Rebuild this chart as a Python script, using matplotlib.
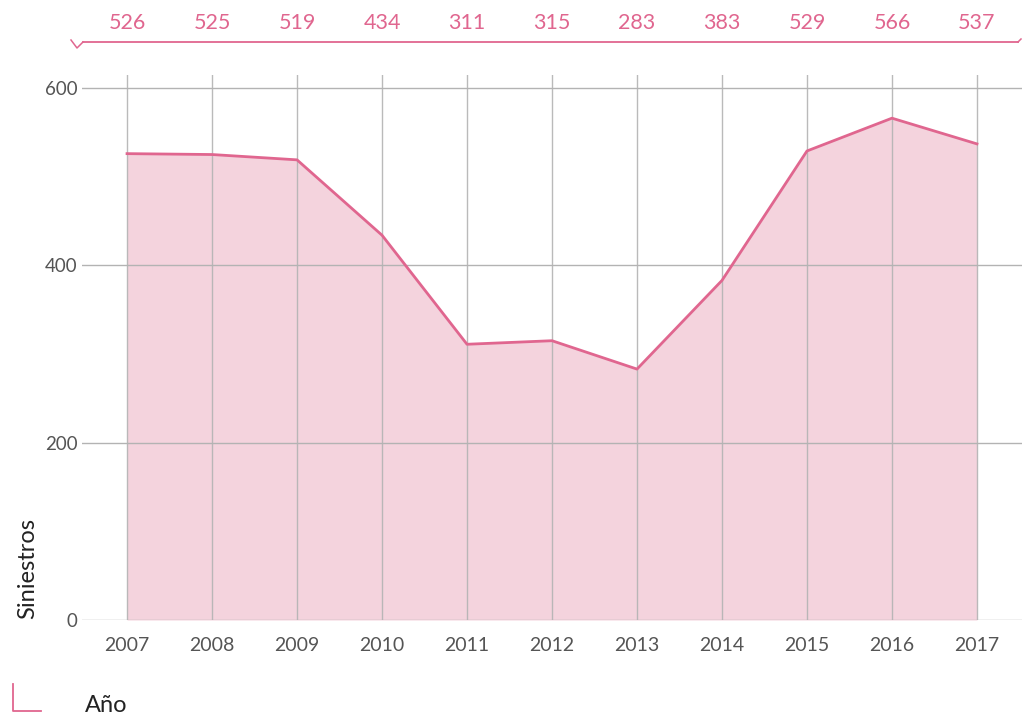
import matplotlib
matplotlib.use("Agg")
import matplotlib.pyplot as plt
from matplotlib.lines import Line2D
from matplotlib.transforms import blended_transform_factory

years = [2007, 2008, 2009, 2010, 2011, 2012, 2013, 2014, 2015, 2016, 2017]
siniestros = [526, 525, 519, 434, 311, 315, 283, 383, 529, 566, 537]
yticks = [0, 200, 400, 600]

PINK = "#e0668f"
FILL = "#f4d3dd"
GRID = "#b3b3b3"
TXT = "#555555"

plt.rcParams['font.family'] = ['Lato', 'DejaVu Sans']

fig = plt.figure(figsize=(10.23, 7.16), dpi=100)
W, H = 1023, 716
ax = fig.add_axes([82 / W, 1 - 620 / H, (1022 - 82) / W, (620 - 75) / H])

ax.fill_between(years, siniestros, 0, color=FILL, lw=0, zorder=1)
ax.plot(years, siniestros, color=PINK, lw=2, zorder=3)

for y in yticks:
    ax.axhline(y, color=GRID, lw=1, zorder=2)
for x in years:
    ax.axvline(x, color=GRID, lw=1, zorder=2, alpha=0.9)

ax.set_xlim(2006.47, 2017.53)
ax.set_ylim(0, 614.7)
ax.set_xticks(years)
ax.set_xticklabels([str(y) for y in years])
ax.set_yticks(yticks)
ax.tick_params(length=0, colors=TXT, labelsize=14)
ax.tick_params(axis='x', pad=12)
ax.tick_params(axis='y', pad=3, labelsize=13.5)
for s in ax.spines.values():
    s.set_visible(False)
ax.set_facecolor('none')

ax.set_ylabel("Siniestros", fontsize=17, color="#222222", labelpad=0)
ax.yaxis.set_label_coords(-54 / 940, 0.095)
ax.yaxis.label.set_verticalalignment('center')

# top value labels
tr = blended_transform_factory(ax.transData, fig.transFigure)
for x, v in zip(years, siniestros):
    ax.text(x, 1 - 23 / H, str(v), transform=tr, ha='center', va='center',
            fontsize=15.5, color=PINK)

def fx(px):
    return px / W

def fy(py):
    return 1 - py / H

# top bracket line
fig.add_artist(Line2D([fx(83), fx(1018)], [fy(42), fy(42)], color=PINK, lw=1.3))
fig.add_artist(Line2D([fx(71), fx(77), fx(83)], [fy(40), fy(48), fy(42)], color=PINK, lw=1.1))
fig.add_artist(Line2D([fx(1018), fx(1021)], [fy(42), fy(39)], color=PINK, lw=1.1))

# bottom-left L bracket
fig.add_artist(Line2D([fx(13), fx(13), fx(41)], [fy(684), fy(711), fy(711)], color=PINK, lw=1.3))
fig.text(fx(85), fy(705), "Año", fontsize=17, color="#222222", ha='left', va='center')

fig.savefig("out.png", dpi=100)
